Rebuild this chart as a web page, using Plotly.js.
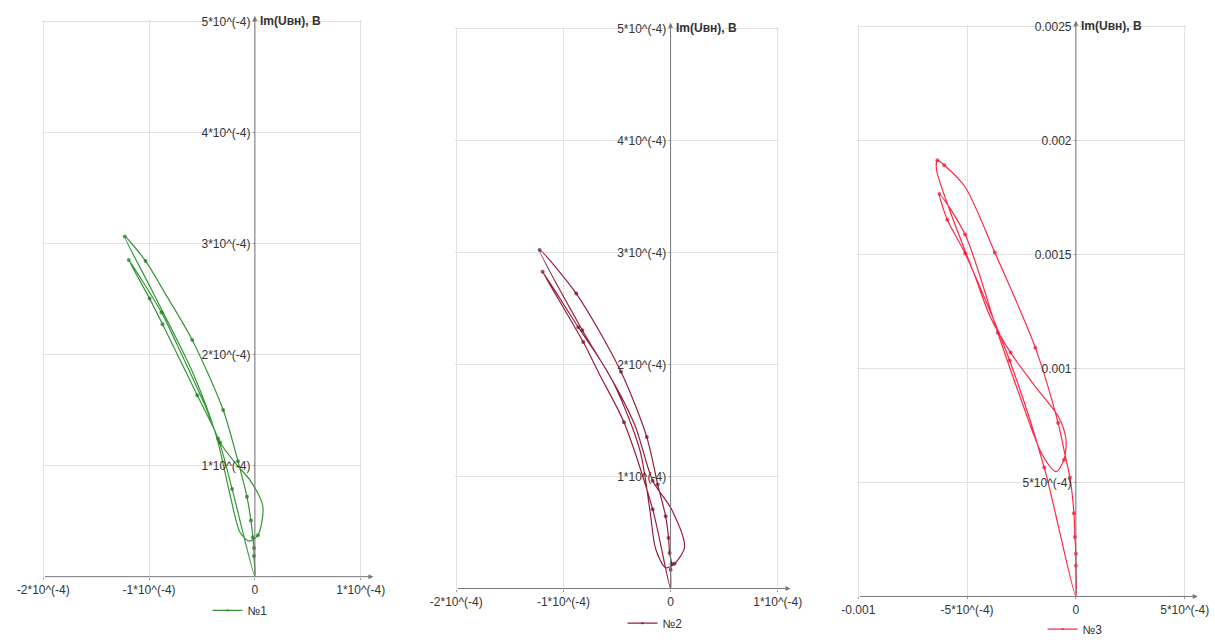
<!DOCTYPE html>
<html>
<head>
<meta charset="utf-8">
<script src="https://cdn.plot.ly/plotly-3.0.1.min.js"></script>
<style>html,body{margin:0;padding:0;background:#fff;}#chart{width:1215px;height:644px;}</style>
</head>
<body>
<div id="chart"></div>
<script>
// ---- Data (volts) ----
// Panel 1 (№1) hodograph path
const re1 = [0, -0.216e-4, -0.347e-4, -0.545e-4, -0.873e-4, -0.995e-4, -1.192e-4, -0.883e-4, -0.704e-4, -0.469e-4, -0.329e-4, -0.169e-4, -0.047e-4, 0.075e-4, 0.028e-4, -0.056e-4, -0.141e-4, -0.235e-4, -0.366e-4, -0.592e-4, -0.986e-4, -1.230e-4, -1.033e-4, -0.836e-4, -0.592e-4, -0.300e-4, -0.160e-4, -0.075e-4, -0.038e-4, -0.019e-4, -0.009e-4, -0.009e-4, 0];
const im1 = [0, 0.790e-4, 1.243e-4, 1.634e-4, 2.274e-4, 2.504e-4, 2.851e-4, 2.380e-4, 2.025e-4, 1.536e-4, 1.208e-4, 1.004e-4, 0.870e-4, 0.631e-4, 0.373e-4, 0.320e-4, 0.400e-4, 0.737e-4, 1.270e-4, 1.847e-4, 2.602e-4, 3.064e-4, 2.842e-4, 2.531e-4, 2.131e-4, 1.501e-4, 1.039e-4, 0.719e-4, 0.506e-4, 0.355e-4, 0.258e-4, 0.186e-4, 0];
const dot1 = [0,1,1,1,1,1,1,1,0,0,1,0,0,0,1,0,0,0,0,0,0,1,1,0,1,1,1,1,1,1,1,1,0];

// Panel 2 (№2)
const re2 = [0, -0.167e-4, -0.435e-4, -0.657e-4, -0.815e-4, -1.194e-4, -0.861e-4, -0.611e-4, -0.333e-4, -0.167e-4, 0.009e-4, 0.130e-4, 0.037e-4, -0.046e-4, -0.139e-4, -0.194e-4, -0.287e-4, -0.519e-4, -0.824e-4, -1.222e-4, -0.880e-4, -0.463e-4, -0.222e-4, -0.120e-4, -0.046e-4, -0.019e-4, -0.009e-4, 0.009e-4, 0, 0];
const im2 = [0, 0.707e-4, 1.484e-4, 1.899e-4, 2.200e-4, 2.827e-4, 2.332e-4, 1.970e-4, 1.458e-4, 0.963e-4, 0.707e-4, 0.371e-4, 0.221e-4, 0.186e-4, 0.353e-4, 0.707e-4, 1.237e-4, 1.811e-4, 2.306e-4, 3.021e-4, 2.633e-4, 1.935e-4, 1.352e-4, 0.928e-4, 0.645e-4, 0.451e-4, 0.318e-4, 0.221e-4, 0.168e-4, 0];
const dot2 = [0,1,1,0,1,1,1,0,0,1,0,0,1,0,0,0,0,0,1,1,1,1,1,1,1,1,1,1,1,0];

// Panel 3 (№3)
const re3 = [0, -1.455e-4, -3.045e-4, -5.091e-4, -5.909e-4, -6.273e-4, -5.091e-4, -3.591e-4, -2.591e-4, -1.545e-4, -0.909e-4, -0.545e-4, -0.455e-4, -0.773e-4, -1.909e-4, -3.000e-4, -3.955e-4, -4.636e-4, -5.773e-4, -6.409e-4, -6.364e-4, -6.045e-4, -5.091e-4, -3.727e-4, -1.864e-4, -0.818e-4, -0.500e-4, -0.273e-4, -0.091e-4, -0.045e-4, 0, 0, 0];
const im3 = [0, 5.652e-4, 10.348e-4, 15.043e-4, 16.522e-4, 17.652e-4, 15.870e-4, 11.565e-4, 8.826e-4, 6.217e-4, 5.478e-4, 6.000e-4, 6.870e-4, 7.826e-4, 9.261e-4, 10.696e-4, 12.304e-4, 14.043e-4, 16.870e-4, 18.739e-4, 19.130e-4, 18.913e-4, 17.957e-4, 15.087e-4, 10.913e-4, 7.609e-4, 6.217e-4, 5.217e-4, 3.652e-4, 2.609e-4, 1.870e-4, 1.348e-4, 0];
const dot3 = [0,1,1,1,1,1,1,1,0,0,0,1,0,0,0,1,0,0,0,0,1,1,0,1,1,1,0,1,1,1,1,1,0];

const names = ['№1', '№2', '№3'];

// Tick values / labels
const xTickVals12 = [-2e-4, -1e-4, 0, 1e-4];
const xTickText12 = ['-2*10^(-4)', '-1*10^(-4)', '0', '1*10^(-4)'];
const yTickVals12 = [1e-4, 2e-4, 3e-4, 4e-4, 5e-4];
const yTickText12 = ['1*10^(-4)', '2*10^(-4)', '3*10^(-4)', '4*10^(-4)', '5*10^(-4)'];
const xTickVals3 = [-1e-3, -5e-4, 0, 5e-4];
const xTickText3 = ['-0.001', '-5*10^(-4)', '0', '5*10^(-4)'];
const yTickVals3 = [5e-4, 1e-3, 1.5e-3, 2e-3, 2.5e-3];
const yTickText3 = ['5*10^(-4)', '0.001', '0.0015', '0.002', '0.0025'];

// ---- Layout helpers ----
const W = 1215, H = 644;
const panels = [
  {px: [42, 362], py: [583, 20], xr: [-2e-4, 1e-4], yr: [0, 5e-4], xa: 1.12e-4, col: 'rgb(52,150,52)', mcol: 'rgb(30,120,30)',
   xtv: xTickVals12, xtt: xTickText12, ytv: yTickVals12, ytt: yTickText12, leg: [240, 617]},
  {px: [455, 779], py: [595, 27], xr: [-2e-4, 1e-4], yr: [0, 5e-4], xa: 1.12e-4, col: 'rgb(150,30,60)', mcol: 'rgb(110,15,40)',
   xtv: xTickVals12, xtt: xTickText12, ytv: yTickVals12, ytt: yTickText12, leg: [655, 630]},
  {px: [857, 1186], py: [603, 25], xr: [-1e-3, 5e-4], yr: [0, 2.5e-3], xa: 5.6e-4, col: 'rgb(255,40,70)', mcol: 'rgb(235,20,50)',
   xtv: xTickVals3, xtt: xTickText3, ytv: yTickVals3, ytt: yTickText3, leg: [1075, 636]}
];
const RE = [re1, re2, re3], IM = [im1, im2, im3], DOT = [dot1, dot2, dot3];

const font = {family: 'Liberation Sans, Arial, sans-serif', size: 12, color: '#333'};
const layout = {
  width: W, height: H, margin: {l: 0, r: 0, t: 0, b: 0},
  paper_bgcolor: '#fff', plot_bgcolor: '#fff', font: font,
  showlegend: true, annotations: [], shapes: []
};
const traces = [];

panels.forEach((p, i) => {
  const s = i === 0 ? '' : String(i + 1);
  // pad range a hair so that edge gridlines are drawn
  const ex = (p.xr[1] - p.xr[0]) * 0.004, ey = (p.yr[1] - p.yr[0]) * 0.003;
  const xr = [p.xr[0] - ex, p.xr[1] + ex], yr = [p.yr[0], p.yr[1] + ey];
  const xd = [p.px[0] / W, p.px[1] / W];
  const yd = [(H - p.py[0]) / H, (H - p.py[1]) / H];
  const frac = (0 - xr[0]) / (xr[1] - xr[0]);
  layout['xaxis' + s] = {
    domain: xd, range: xr, anchor: 'y' + s,
    tickvals: p.xtv, ticktext: p.xtt, showgrid: true, gridcolor: '#e2e2e2', gridwidth: 1,
    zeroline: false, showline: false,
    ticks: 'outside', ticklen: 2, tickcolor: '#999', tickfont: {size: 12, color: '#333'}
  };
  layout['yaxis' + s] = {
    domain: yd, range: yr, anchor: 'free', position: xd[0] + frac * (xd[1] - xd[0]),
    tickvals: p.ytv, ticktext: p.ytt, showgrid: true, gridcolor: '#e2e2e2', gridwidth: 1,
    zeroline: false, showline: false,
    ticks: 'outside', ticklen: 2, tickcolor: '#999', tickfont: {size: 12, color: '#333'}
  };
  // axis lines with arrows
  layout.annotations.push({xref: 'x' + s, yref: 'y' + s, axref: 'x' + s, ayref: 'y' + s,
    x: p.xa, y: 0, ax: p.xr[0], ay: 0, text: '', showarrow: true, arrowhead: 2, arrowsize: 1,
    arrowwidth: 1, arrowcolor: '#777', standoff: 0, startstandoff: 0});
  layout.annotations.push({xref: 'x' + s, yref: 'y' + s, axref: 'x' + s, ayref: 'y' + s,
    x: 0, y: p.yr[1] * 1.01, ax: 0, ay: 0, text: '', showarrow: true, arrowhead: 2, arrowsize: 1,
    arrowwidth: 1, arrowcolor: '#777', standoff: 0, startstandoff: 0});
  traces.push({
    type: 'scatter', mode: 'lines+markers', x: RE[i], y: IM[i], name: names[i],
    xaxis: 'x' + s, yaxis: 'y' + s, legend: 'legend' + s,
    line: {color: p.col, width: 1.2, shape: 'spline', smoothing: 0.8},
    marker: {color: p.mcol, size: DOT[i].map(d => d ? 4 : 0), line: {width: 0}},
    cliponaxis: false, hoverinfo: 'x+y'
  });
  layout['legend' + s] = {
    x: p.leg[0] / W, y: (H - p.leg[1]) / H, xanchor: 'center', yanchor: 'middle',
    bgcolor: 'rgba(0,0,0,0)', font: {size: 12, color: '#333'}, itemwidth: 30
  };
  // axis titles
  layout.annotations.push({xref: 'x' + s, yref: 'y' + s, x: 0, y: p.yr[1], xanchor: 'left', yanchor: 'middle',
    xshift: 3, showarrow: false, text: '<b>Im(Uвн), В</b>', font: {size: 12, color: '#333'}});
  layout.annotations.push({xref: 'x' + s, yref: 'y' + s, x: p.xa, y: 0, xanchor: 'right', yanchor: 'bottom',
    yshift: 2, showarrow: false, text: '<b>Re(Uвн), В</b>', font: {size: 12, color: '#333'}});
});

Plotly.newPlot('chart', traces, layout, {staticPlot: true, displayModeBar: false});
</script>
</body>
</html>
